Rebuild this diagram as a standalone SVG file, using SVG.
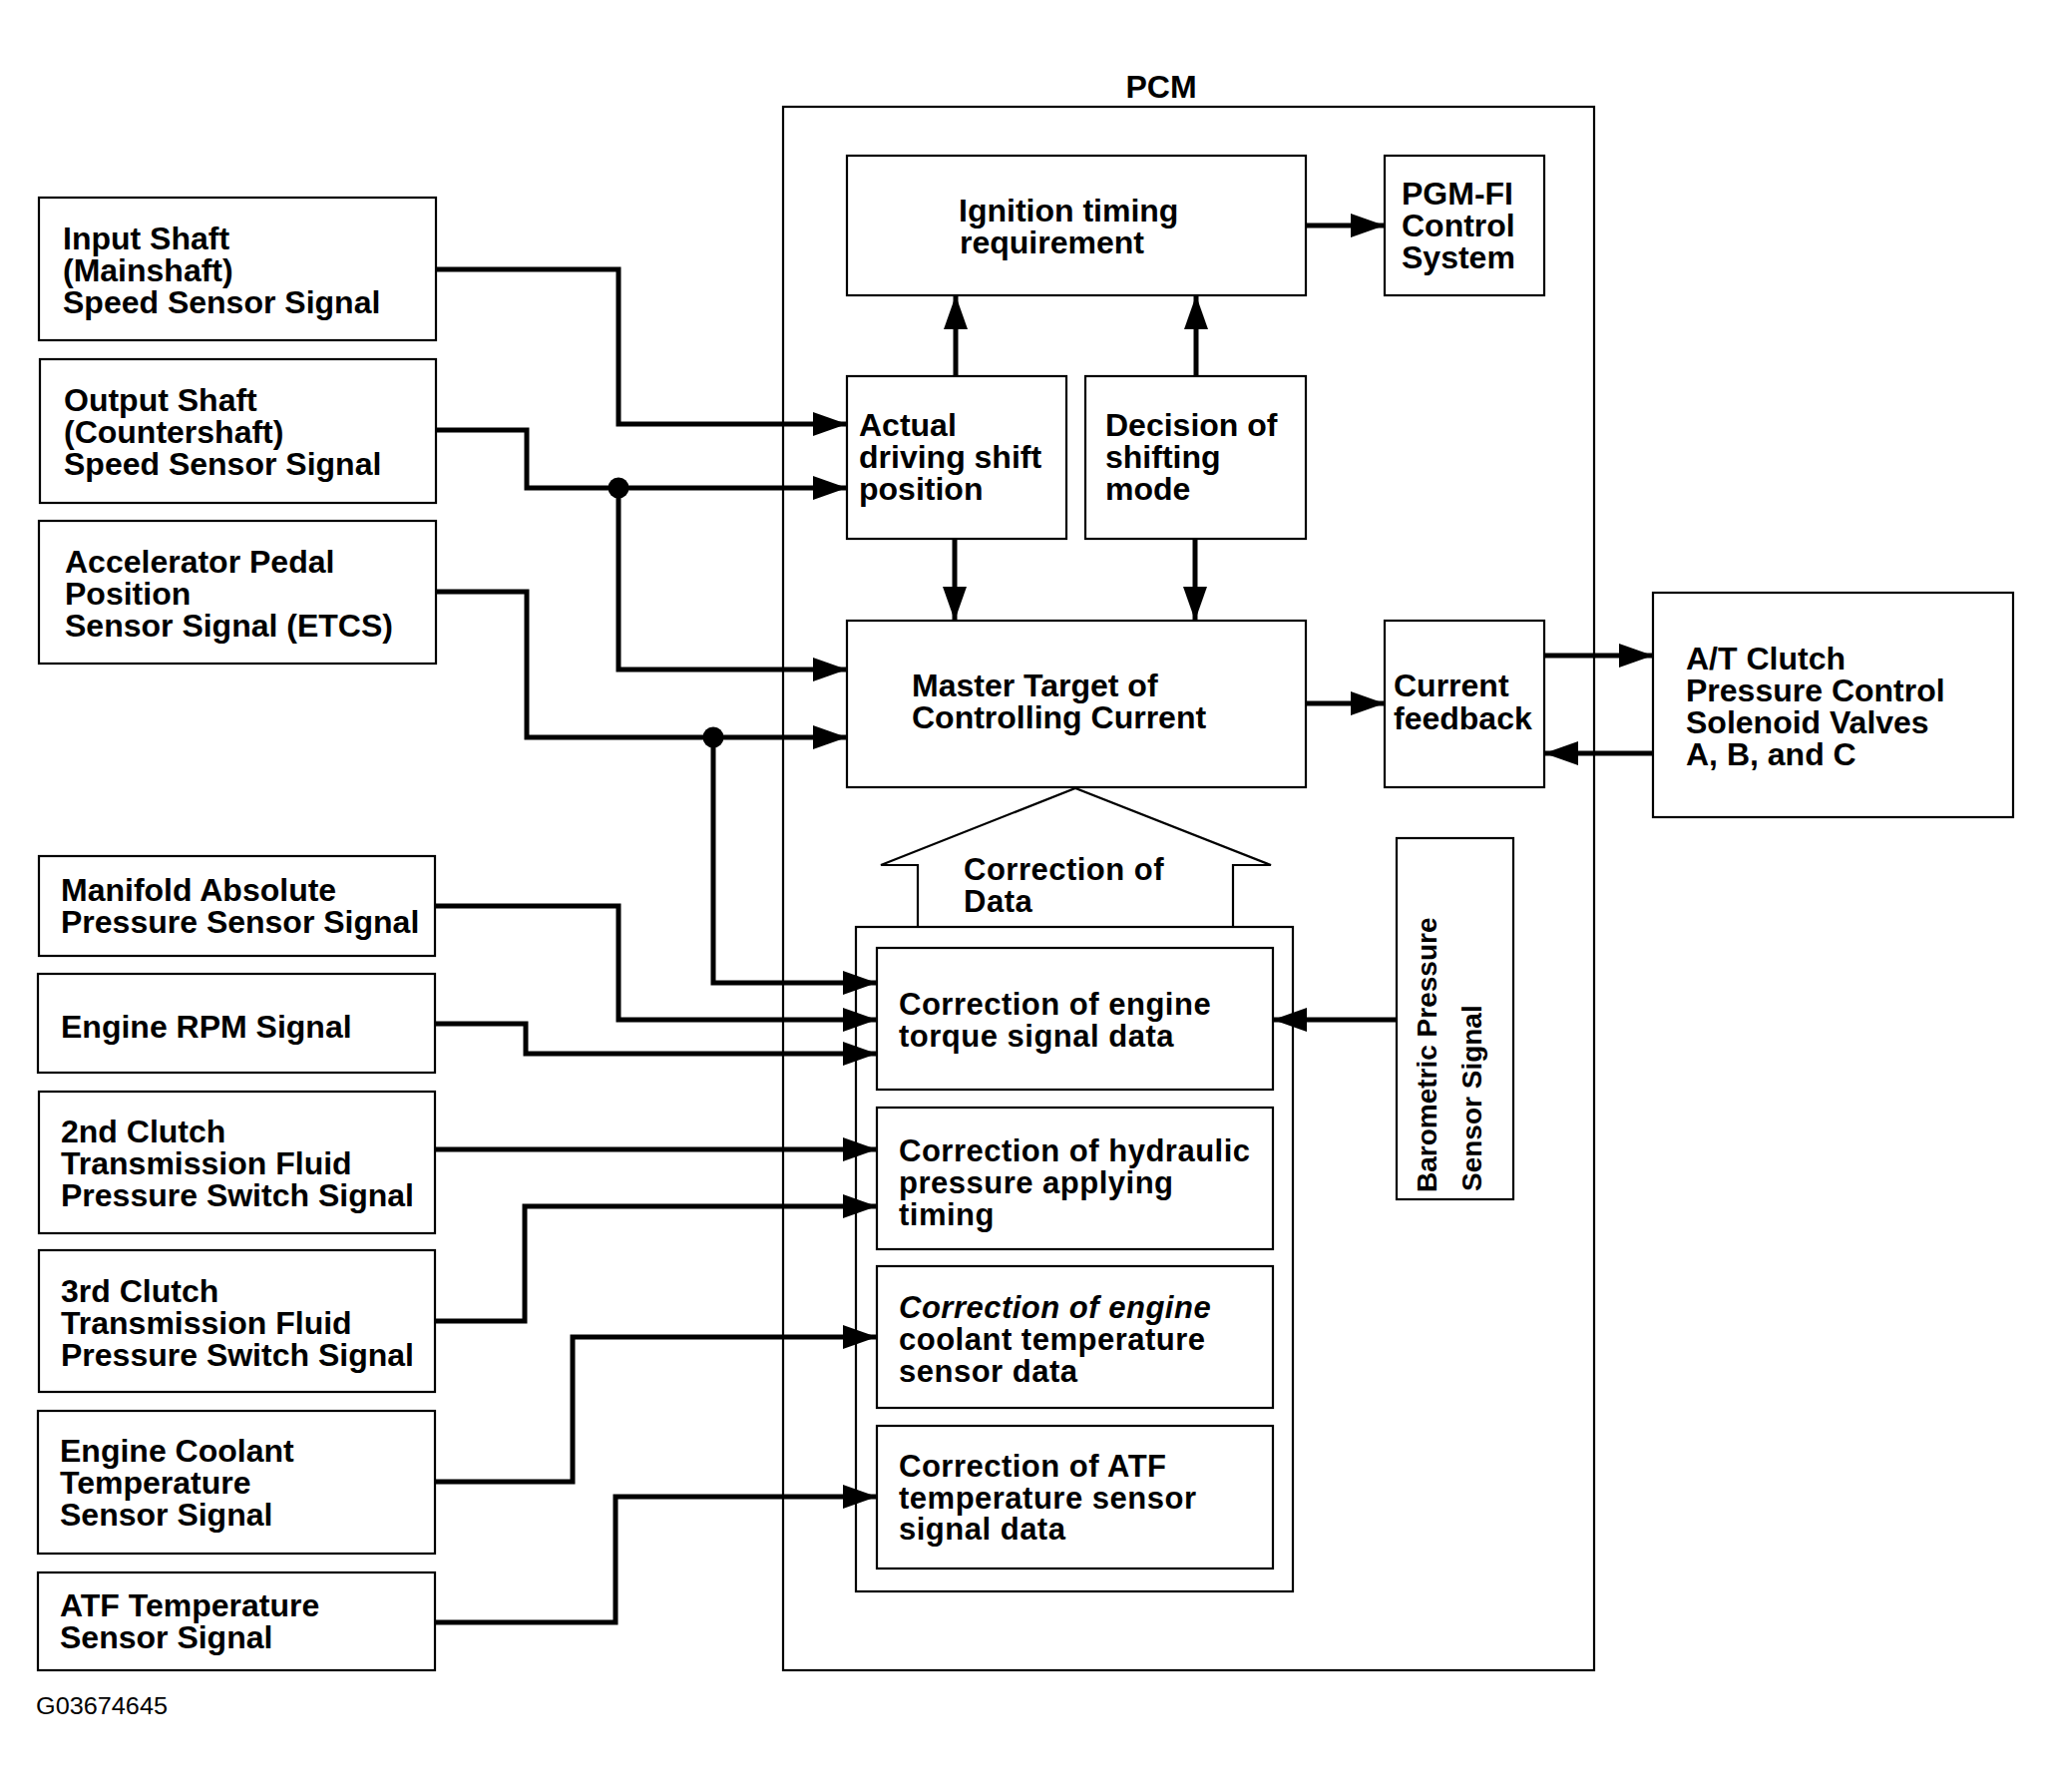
<svg xmlns="http://www.w3.org/2000/svg" width="2057" height="1796" viewBox="0 0 2057 1796">
<style>
.box{fill:none;stroke:#000;stroke-width:2.2}
.t{font-family:"Liberation Sans",Arial,sans-serif;font-weight:bold;font-size:32px;fill:#000}
.w{font-family:"Liberation Sans",Arial,sans-serif;font-weight:bold;font-size:31px;letter-spacing:0.5px;fill:#000}
.b{font-family:"Liberation Sans",Arial,sans-serif;font-weight:bold;font-size:28px;fill:#000}
.c{fill:none;stroke:#000;stroke-width:5}
</style>
<defs>
<marker id="ah" markerUnits="userSpaceOnUse" markerWidth="36" markerHeight="26" refX="34" refY="12" orient="auto">
<path d="M0,0 L34,12 L0,24 z" fill="#000"/>
</marker>
</defs>
<rect width="2057" height="1796" fill="#fff"/>

<g id="pcm">
<rect class="box" x="785" y="107" width="813" height="1567"/>
<text class="t" x="1164" y="98" text-anchor="middle">PCM</text>
</g>

<g id="input-shaft">
<rect class="box" x="39" y="198" width="398" height="143"/>
<text class="t" x="63" y="250">Input Shaft</text>
<text class="t" x="63" y="282">(Mainshaft)</text>
<text class="t" x="63" y="314">Speed Sensor Signal</text>
</g>
<g id="output-shaft">
<rect class="box" x="40" y="360" width="397" height="144"/>
<text class="t" x="64" y="412">Output Shaft</text>
<text class="t" x="64" y="444">(Countershaft)</text>
<text class="t" x="64" y="476">Speed Sensor Signal</text>
</g>
<g id="accelerator">
<rect class="box" x="39" y="522" width="398" height="143"/>
<text class="t" x="65" y="574">Accelerator Pedal</text>
<text class="t" x="65" y="606">Position</text>
<text class="t" x="65" y="638">Sensor Signal (ETCS)</text>
</g>
<g id="manifold">
<rect class="box" x="39" y="858" width="397" height="100"/>
<text class="t" x="61" y="903">Manifold Absolute</text>
<text class="t" x="61" y="935">Pressure Sensor Signal</text>
</g>
<g id="engine-rpm">
<rect class="box" x="38" y="976" width="398" height="99"/>
<text class="t" x="61" y="1040">Engine RPM Signal</text>
</g>
<g id="clutch2">
<rect class="box" x="39" y="1094" width="397" height="142"/>
<text class="t" x="61" y="1145">2nd Clutch</text>
<text class="t" x="61" y="1177">Transmission Fluid</text>
<text class="t" x="61" y="1209">Pressure Switch Signal</text>
</g>
<g id="clutch3">
<rect class="box" x="39" y="1253" width="397" height="142"/>
<text class="t" x="61" y="1305">3rd Clutch</text>
<text class="t" x="61" y="1337">Transmission Fluid</text>
<text class="t" x="61" y="1369">Pressure Switch Signal</text>
</g>
<g id="ect">
<rect class="box" x="38" y="1414" width="398" height="143"/>
<text class="t" x="60" y="1465">Engine Coolant</text>
<text class="t" x="60" y="1497">Temperature</text>
<text class="t" x="60" y="1529">Sensor Signal</text>
</g>
<g id="atf">
<rect class="box" x="38" y="1576" width="398" height="98"/>
<text class="t" x="60" y="1620">ATF Temperature</text>
<text class="t" x="60" y="1652">Sensor Signal</text>
</g>

<g id="ignition">
<rect class="box" x="849" y="156" width="460" height="140"/>
<text class="t" x="961" y="222">Ignition timing</text>
<text class="t" x="962" y="254">requirement</text>
</g>
<g id="pgmfi">
<rect class="box" x="1388" y="156" width="160" height="140"/>
<text class="t" x="1405" y="205">PGM-FI</text>
<text class="t" x="1405" y="237">Control</text>
<text class="t" x="1405" y="269">System</text>
</g>
<g id="actual">
<rect class="box" x="849" y="377" width="220" height="163"/>
<text class="t" x="861" y="437">Actual</text>
<text class="t" x="861" y="469">driving shift</text>
<text class="t" x="861" y="501">position</text>
</g>
<g id="decision">
<rect class="box" x="1088" y="377" width="221" height="163"/>
<text class="t" x="1108" y="437">Decision of</text>
<text class="t" x="1108" y="469">shifting</text>
<text class="t" x="1108" y="501">mode</text>
</g>
<g id="master">
<rect class="box" x="849" y="622" width="460" height="167"/>
<text class="t" x="914" y="698">Master Target of</text>
<text class="t" x="914" y="730">Controlling Current</text>
</g>
<g id="feedback">
<rect class="box" x="1388" y="622" width="160" height="167"/>
<text class="t" x="1397" y="698" font-size="31">Current</text>
<text class="t" x="1397" y="731" font-size="31">feedback</text>
</g>
<g id="solenoids">
<rect class="box" x="1657" y="594" width="361" height="225"/>
<text class="t" x="1690" y="671">A/T Clutch</text>
<text class="t" x="1690" y="703">Pressure Control</text>
<text class="t" x="1690" y="735">Solenoid Valves</text>
<text class="t" x="1690" y="767">A, B, and C</text>
</g>

<g id="correction-of-data">
<polygon class="box" points="920,929 920,867 883,867 1078,790 1274,867 1236,867 1236,929"/>
<text class="w" x="966" y="882">Correction of</text>
<text class="w" x="966" y="914">Data</text>
<rect class="box" x="858" y="929" width="438" height="666"/>
</g>
<g id="corr-torque">
<rect class="box" x="879" y="950" width="397" height="142"/>
<text class="w" x="901" y="1017">Correction of engine</text>
<text class="w" x="901" y="1049">torque signal data</text>
</g>
<g id="corr-hydraulic">
<rect class="box" x="879" y="1110" width="397" height="142"/>
<text class="w" x="901" y="1164">Correction of hydraulic</text>
<text class="w" x="901" y="1196">pressure applying</text>
<text class="w" x="901" y="1228">timing</text>
</g>
<g id="corr-coolant">
<rect class="box" x="879" y="1269" width="397" height="142"/>
<text class="w" x="901" y="1321" font-style="italic">Correction of engine</text>
<text class="w" x="901" y="1353">coolant temperature</text>
<text class="w" x="901" y="1385">sensor data</text>
</g>
<g id="corr-atf">
<rect class="box" x="879" y="1429" width="397" height="143"/>
<text class="w" x="901" y="1480">Correction of ATF</text>
<text class="w" x="901" y="1512">temperature sensor</text>
<text class="w" x="901" y="1543">signal data</text>
</g>
<g id="barometric">
<rect class="box" x="1400" y="840" width="117" height="362"/>
<text class="b" transform="translate(1440,1195) rotate(-90)">Barometric Pressure</text>
<text class="b" transform="translate(1485,1194) rotate(-90)">Sensor Signal</text>
</g>

<text x="36" y="1718" font-family="'Liberation Sans',Arial,sans-serif" font-size="23" textLength="132" lengthAdjust="spacingAndGlyphs">G03674645</text>

<g id="connectors">
<path class="c" d="M437,270 H620 V425 H849" marker-end="url(#ah)"/>
<path class="c" d="M437,431 H528 V489 H849" marker-end="url(#ah)"/>
<path class="c" d="M620,489 V671 H849" marker-end="url(#ah)"/>
<path class="c" d="M437,593 H528 V739 H849" marker-end="url(#ah)"/>
<path class="c" d="M715,739 V985 H879" marker-end="url(#ah)"/>
<path class="c" d="M436,908 H620 V1022 H879" marker-end="url(#ah)"/>
<path class="c" d="M436,1026 H527 V1056 H879" marker-end="url(#ah)"/>
<path class="c" d="M436,1152 H879" marker-end="url(#ah)"/>
<path class="c" d="M436,1324 H526 V1209 H879" marker-end="url(#ah)"/>
<path class="c" d="M436,1485 H574 V1340 H879" marker-end="url(#ah)"/>
<path class="c" d="M436,1626 H617 V1500 H879" marker-end="url(#ah)"/>
<path class="c" d="M1400,1022 H1276" marker-end="url(#ah)"/>
<path class="c" d="M1309,226 H1388" marker-end="url(#ah)"/>
<path class="c" d="M958,377 V296" marker-end="url(#ah)"/>
<path class="c" d="M1199,377 V296" marker-end="url(#ah)"/>
<path class="c" d="M957,540 V622" marker-end="url(#ah)"/>
<path class="c" d="M1198,540 V622" marker-end="url(#ah)"/>
<path class="c" d="M1309,705 H1388" marker-end="url(#ah)"/>
<path class="c" d="M1548,657 H1657" marker-end="url(#ah)"/>
<path class="c" d="M1657,755 H1548" marker-end="url(#ah)"/>
<circle cx="620" cy="489" r="10.5" fill="#000"/>
<circle cx="715" cy="739" r="10.5" fill="#000"/>
</g>
</svg>
